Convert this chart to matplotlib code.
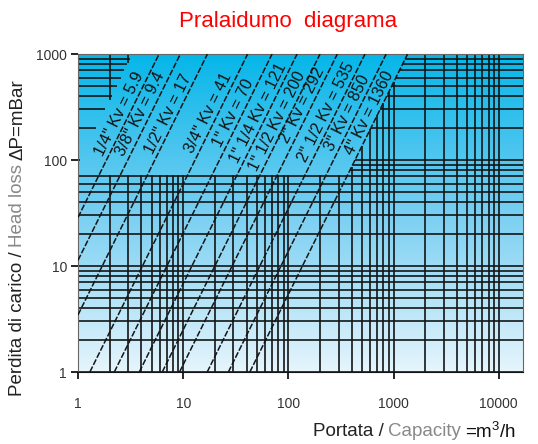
import numpy as np
import matplotlib.pyplot as plt
from matplotlib.colors import LinearSegmentedColormap

plt.rcParams['font.family'] = ['Liberation Sans', 'DejaVu Sans']
plt.rcParams['mathtext.fontset'] = 'custom'
plt.rcParams['mathtext.rm'] = 'Liberation Sans'
plt.rcParams['mathtext.it'] = 'Liberation Sans'
plt.rcParams['mathtext.default'] = 'regular'

# valve sizes and flow coefficients (Kv, m3/h at 1 bar)
sizes = ['1/4"', '3/8"', '1/2"', '3/4"', '1"', '1" 1/4', '1" 1/2', '2"', '2" 1/2', '3"', '4"']
kv = [5.9, 9.4, 17, 41, 70, 121, 200, 292, 535, 850, 1360]
label_dp = [270, 270, 270, 280, 280, 280, 230, 330, 280, 280, 280]   # where each label sits (mBar)

x_ticks = [1, 10, 100, 1000, 10000]
y_ticks = [1, 10, 100, 1000]

X_MAX = 17000
LOW_TOP = 72       # full grid below this pressure
KV_CORNER = 3.3    # small grid patch in the top-left corner
KV_EDGE = kv[-1]   # grid to the right of the 4" line


def dp_on(k, q):
    return 1000 * (q / k) ** 2


def q_on(k, dp):
    return k * np.sqrt(dp / 1000)


fig = plt.figure(figsize=(5.38, 4.44), dpi=100)
ax = fig.add_axes([78 / 538, 1 - 372 / 444, 445 / 538, 318 / 444])
ax.set_xscale('log')
ax.set_yscale('log')

# background gradient
cmap = LinearSegmentedColormap.from_list('bg', ['#e6f5fc', '#78cff2', '#05b6e9'])
grad = np.linspace(0, 1, 256).reshape(-1, 1)
ax.imshow(grad, extent=[0, 1, 0, 1], transform=ax.transAxes, origin='lower',
          cmap=cmap, aspect='auto', zorder=0)

ax.set_xlim(1, X_MAX)
ax.set_ylim(1, 1000)

# grid
gx = [m * 10 ** e for e in range(0, 4) for m in range(1, 10)] + [10000]
gy = [m * 10 ** e for e in range(0, 3) for m in range(1, 10)] + [1000]
gkw = dict(color='#151515', lw=1.2, zorder=2)

for x in gx:
    top = 1000 if x >= KV_EDGE else max(LOW_TOP, dp_on(KV_EDGE, x))
    ax.vlines(x, 1, top, **gkw)
    c = dp_on(KV_CORNER, x)
    if c < 1000:
        ax.vlines(x, max(c, LOW_TOP), 1000, **gkw)

for y in gy:
    if y <= LOW_TOP:
        ax.hlines(y, 1, X_MAX, **gkw)
    else:
        ax.hlines(y, q_on(KV_EDGE, y), X_MAX, **gkw)
        ax.hlines(y, 1, q_on(KV_CORNER, y), **gkw)

# Kv lines
for k in kv:
    q0 = max(1, q_on(k, 1))
    q1 = q_on(k, 1000)
    ax.plot([q0, q1], [dp_on(k, q0), 1000], color='#151515', lw=1.1,
            ls=(0, (4, 1.2)), zorder=3)

# labels along the lines
p1 = ax.transData.transform((10, 10))
p2 = ax.transData.transform((20, 40))
ang = np.degrees(np.arctan2(p2[1] - p1[1], p2[0] - p1[0]))
for s, k, d in zip(sizes, kv, label_dp):
    ax.annotate(f'{s} Kv = {k:g}', xy=(q_on(k, d), d), xytext=(-7, 0),
                textcoords='offset points', rotation=ang, rotation_mode='anchor',
                ha='center', va='center', fontsize=11.5, color='#111', zorder=4)

# axes styling
for side in ['top', 'right', 'left']:
    ax.spines[side].set_color('#666')
ax.spines['bottom'].set_color('#151515')
ax.set_xticks(x_ticks)
ax.set_xticklabels([str(v) for v in x_ticks])
ax.set_yticks(y_ticks)
ax.set_yticklabels([str(v) for v in y_ticks])
ax.minorticks_off()
ax.tick_params(axis='x', direction='out', length=5, width=1.2, pad=13,
               labelsize=10, labelcolor='#333')
ax.tick_params(axis='y', direction='out', length=5, width=1.2, pad=3,
               labelsize=10, labelcolor='#333')

fig.text(288 / 538, 1 - 22 / 444, 'Pralaidumo  diagrama', color='red',
         fontsize=16, ha='center', va='center')

# multi-coloured axis titles
fig.canvas.draw()
r = fig.canvas.get_renderer()
W, H = fig.bbox.width, fig.bbox.height
gap = 4

xl = [('=m$^3$/h', '#111'), ('Capacity', '#888'), ('Portata /', '#222')]
xr = 516
for txt, col in xl:
    t = fig.text(xr / W, 1 - 432 / H, txt, color=col, fontsize=13.5,
                 ha='right', va='center')
    xr = t.get_window_extent(r).x0 - gap

yl = [('Perdita di carico /', '#222'), ('Head loss', '#888'), ('ΔP=mBar', '#222')]
yb = H - 396
for txt, col in yl:
    t = fig.text(18 / W, yb / H, txt, color=col, fontsize=13.5, rotation=90,
                 ha='center', va='bottom')
    yb = t.get_window_extent(r).y1 + gap

fig.savefig('out.png', dpi=100)
